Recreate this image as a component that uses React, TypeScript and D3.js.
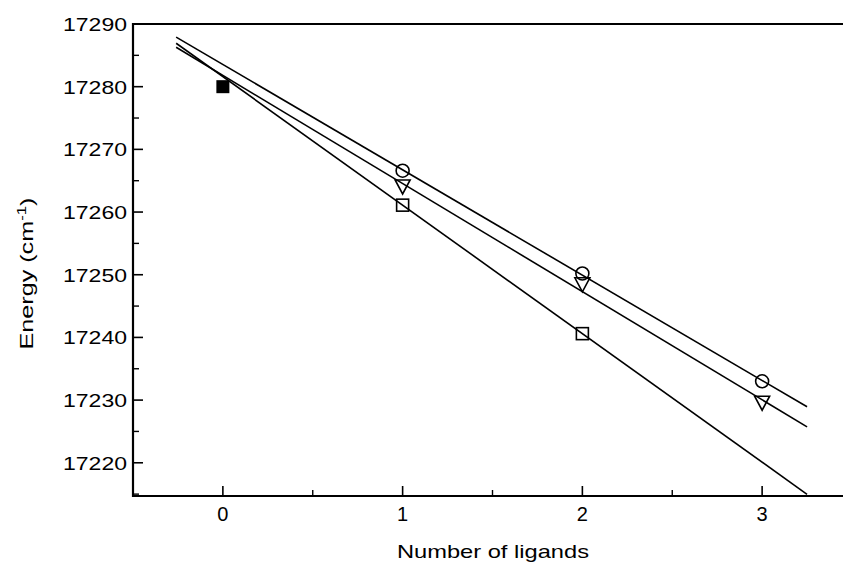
import React from "react";
import * as d3 from "d3";

// ---- data ----
const ligands = [1, 2, 3];
const circleEnergy = [17266.6, 17250.2, 17233.0];
const triangleEnergy = [17264.0, 17248.4, 17229.5];
const squareLigands = [1, 2];
const squareEnergy = [17261.1, 17240.6];
const freeIonLigands = [0];
const freeIonEnergy = [17280.0];
const fitRange = [-0.26, 3.25];
const xTickValues = [0, 1, 2, 3];
const xMinorValues = [0.5, 1.5, 2.5];
const yTickValues = [17220, 17230, 17240, 17250, 17260, 17270, 17280, 17290];
const yMinorValues = [17215, 17225, 17235, 17245, 17255, 17265, 17275, 17285];

const W = 843;
const H = 569;
const L = 133;
const T = 24;
const B = 496;
const R = 852;

function linfit(xs: number[], ys: number[]) {
  const mx = d3.mean(xs)!;
  const my = d3.mean(ys)!;
  let sxy = 0;
  let sxx = 0;
  xs.forEach((x, i) => {
    sxy += (x - mx) * (ys[i] - my);
    sxx += (x - mx) * (x - mx);
  });
  const slope = sxy / sxx;
  const intercept = my - slope * mx;
  return (x: number) => intercept + slope * x;
}

export default function App() {
  const x = d3.scaleLinear().domain([-0.5, 3.5]).range([L, R]);
  const y = d3.scaleLinear().domain([17214.7, 17290]).range([B, T]);

  const series = [
    { xs: ligands, ys: circleEnergy, kind: "circle" },
    { xs: ligands, ys: triangleEnergy, kind: "triangle" },
    { xs: squareLigands, ys: squareEnergy, kind: "square" },
  ];

  const line = d3
    .line<number[]>()
    .x((d) => x(d[0]))
    .y((d) => y(d[1]));

  const font = "'Liberation Sans', Arial, Helvetica, sans-serif";

  const marker = (kind: string, cx: number, cy: number, key: string) => {
    if (kind === "circle")
      return <circle key={key} cx={cx} cy={cy} r={6.5} fill="none" stroke="#000" strokeWidth={1.6} />;
    if (kind === "triangle")
      return (
        <path
          key={key}
          d={`M${cx - 7.5},${cy - 7}L${cx + 7.5},${cy - 7}L${cx},${cy + 7}Z`}
          fill="none"
          stroke="#000"
          strokeWidth={1.6}
          strokeLinejoin="miter"
        />
      );
    return <rect key={key} x={cx - 6} y={cy - 6} width={12} height={12} fill="none" stroke="#000" strokeWidth={1.6} />;
  };

  return (
    <svg
      width={W}
      height={H}
      style={{ position: "absolute", left: 0, top: 0, background: "#fff" }}
      fontFamily={font}
    >
      <defs>
        <clipPath id="plotclip">
          <rect x={L} y={T} width={R - L} height={B - T} />
        </clipPath>
      </defs>
      <rect x={0} y={0} width={W} height={H} fill="#fff" />

      {/* fit lines */}
      <g clipPath="url(#plotclip)">
        {series.map((s, i) => {
          const f = linfit(s.xs, s.ys);
          const pts = fitRange.map((v) => [v, f(v)]);
          return <path key={i} d={line(pts) || ""} fill="none" stroke="#000" strokeWidth={1.6} />;
        })}
      </g>

      {/* markers */}
      {series.map((s, i) => s.xs.map((v, j) => marker(s.kind, x(v), y(s.ys[j]), `${i}-${j}`)))}
      {freeIonLigands.map((v, i) => (
        <rect key={`f${i}`} x={x(v) - 6.5} y={y(freeIonEnergy[i]) - 6.5} width={13} height={13} fill="#000" />
      ))}

      {/* frame */}
      <line x1={L} x2={W} y1={T} y2={T} stroke="#000" strokeWidth={2} />
      <line x1={L} x2={W} y1={B} y2={B} stroke="#000" strokeWidth={2} />
      <line x1={L} x2={L} y1={T - 1} y2={B + 1} stroke="#000" strokeWidth={2.2} />

      {/* y ticks */}
      {yTickValues.map((v) => (
        <g key={`y${v}`}>
          <line x1={L} x2={L + 10} y1={y(v)} y2={y(v)} stroke="#000" strokeWidth={1.6} />
          <text
            x={127}
            y={y(v) + 7}
            textAnchor="end"
            fontSize={19}
            textLength={64}
            lengthAdjust="spacingAndGlyphs"
            fill="#000"
          >
            {v}
          </text>
        </g>
      ))}
      {yMinorValues.map((v) => (
        <line key={`ym${v}`} x1={L} x2={L + 6} y1={y(v)} y2={y(v)} stroke="#000" strokeWidth={1.4} />
      ))}

      {/* x ticks */}
      {xTickValues.map((v) => (
        <g key={`x${v}`}>
          <line x1={x(v)} x2={x(v)} y1={B} y2={B - 10} stroke="#000" strokeWidth={1.6} />
          <text x={x(v)} y={521} textAnchor="middle" fontSize={20} fill="#000">
            {v}
          </text>
        </g>
      ))}
      {xMinorValues.map((v) => (
        <line key={`xm${v}`} x1={x(v)} x2={x(v)} y1={B} y2={B - 6} stroke="#000" strokeWidth={1.4} />
      ))}

      {/* axis titles */}
      <text
        x={493}
        y={558}
        textAnchor="middle"
        fontSize={19}
        textLength={192}
        lengthAdjust="spacingAndGlyphs"
        fill="#000"
      >
        Number of ligands
      </text>
      <text
        transform={`translate(33,273.5) rotate(-90)`}
        textAnchor="middle"
        fontSize={18}
        fill="#000"
        textLength={152}
        lengthAdjust="spacingAndGlyphs"
      >
        Energy (cm
        <tspan fontSize={12} dy={-7}>
          -1
        </tspan>
        <tspan dy={7}>)</tspan>
      </text>
    </svg>
  );
}
